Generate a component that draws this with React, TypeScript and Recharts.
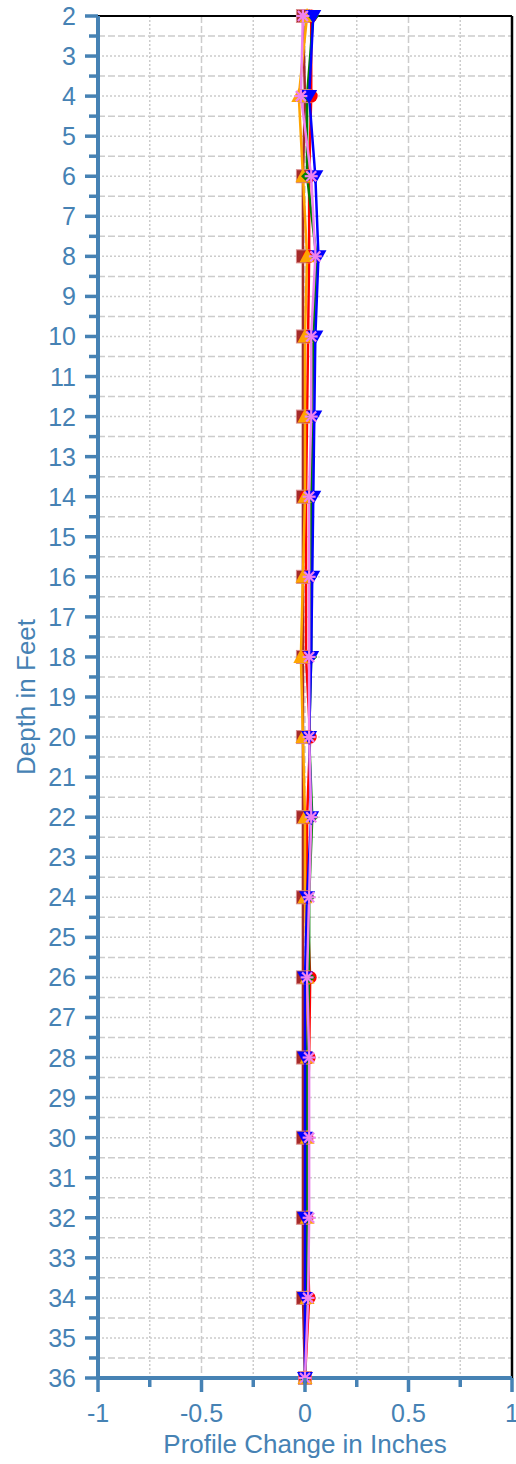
import React from "react";
import {
  LineChart,
  Line,
  XAxis,
  YAxis,
  CartesianGrid,
  ReferenceLine,
} from "recharts";

// depths (ft) and profile change per survey (in)
const DEPTHS = [2, 4, 6, 8, 10, 12, 14, 16, 18, 20, 22, 24, 26, 28, 30, 32, 34, 36];
const BROWN = [-0.01, 0, -0.01, -0.01, -0.01, -0.01, -0.01, -0.01, -0.01, -0.01, -0.01, -0.01, -0.01, -0.01, -0.01, -0.01, -0.01, 0];
const RED = [0.03, 0.03, 0.02, 0.02, 0.015, 0.01, 0.005, 0.005, 0.005, 0.025, 0.01, 0.01, 0.025, 0.02, 0.01, 0.01, 0.02, 0];
const ORANGE = [0.01, -0.03, -0.01, 0.01, 0, 0, 0, -0.01, -0.02, -0.01, 0, 0, 0.01, 0.01, 0.01, 0.01, 0.01, 0];
const GREEN = [0.04, 0.01, 0.01, 0.055, 0.04, 0.035, 0.03, 0.03, 0.03, 0.02, 0.035, 0.02, 0.02, 0.01, 0.01, 0.01, 0.01, 0];
const BLUE = [0.04, 0.02, 0.05, 0.065, 0.05, 0.045, 0.04, 0.035, 0.03, 0.02, 0.03, 0.01, 0, 0, 0, 0, 0, 0];
const VIOLET = [-0.01, -0.02, 0.03, 0.05, 0.03, 0.03, 0.02, 0.02, 0.02, 0.02, 0.03, 0.02, 0.01, 0.02, 0.02, 0.02, 0.015, 0];

// axis ticks
const Y_LABELS = [2, 3, 4, 5, 6, 7, 8, 9, 10, 11, 12, 13, 14, 15, 16, 17, 18, 19, 20, 21, 22, 23, 24, 25, 26, 27, 28, 29, 30, 31, 32, 33, 34, 35, 36];
const Y_MINOR = Y_LABELS.slice(0, -1).map((v) => v + 0.5);
const X_MAJOR = [-1, -0.5, 0, 0.5, 1];
const X_MINOR = [-0.75, -0.25, 0.25, 0.75];

const AXIS = "#4682B4";
const FONT = '"Liberation Sans", Arial, sans-serif';

const data = DEPTHS.map((depth, i) => ({
  depth,
  brown: BROWN[i],
  red: RED[i],
  orange: ORANGE[i],
  green: GREEN[i],
  blue: BLUE[i],
  violet: VIOLET[i],
}));

const YTick = (props: any) => {
  const { x, y, payload } = props;
  const v = payload.value;
  const major = Number.isInteger(v);
  const len = major ? 13 : 9;
  return (
    <g>
      <line x1={x - len} x2={x} y1={y} y2={y} stroke={AXIS} strokeWidth={3.5} />
      {major && (
        <text x={x - 22} y={y} dy={9} textAnchor="end" fill={AXIS} fontSize={25} fontFamily={FONT}>
          {v}
        </text>
      )}
    </g>
  );
};

const XTick = (props: any) => {
  const { x, y, payload } = props;
  const v = payload.value;
  const major = X_MAJOR.includes(v);
  const len = major ? 14 : 9;
  return (
    <g>
      <line x1={x} x2={x} y1={y} y2={y + len} stroke={AXIS} strokeWidth={3.5} />
      {major && (
        <text x={x} y={y + 44} textAnchor="middle" fill={AXIS} fontSize={25} fontFamily={FONT}>
          {v}
        </text>
      )}
    </g>
  );
};

const YTitle = (props: any) => {
  const { x, y, height } = props.viewBox;
  const cx = x + 26;
  const cy = y + height / 2;
  return (
    <text x={cx} y={cy} dy={9} transform={`rotate(-90 ${cx} ${cy})`} textAnchor="middle" fill={AXIS} fontSize={26} fontFamily={FONT}>
      Depth in Feet
    </text>
  );
};

const XTitle = (props: any) => {
  const { x, y, width } = props.viewBox;
  return (
    <text x={x + width / 2} y={y + 75} textAnchor="middle" fill={AXIS} fontSize={26} fontFamily={FONT}>
      Profile Change in Inches
    </text>
  );
};

// marker shapes
const square = (color: string) => (p: any) => (
  <rect key={`sq-${p.index}`} x={p.cx - 6.5} y={p.cy - 6.5} width={13} height={13} fill={color} stroke="#d98c8c" strokeWidth={1} />
);
const circle = (color: string) => (p: any) => (
  <circle key={`ci-${p.index}`} cx={p.cx} cy={p.cy} r={6.5} fill={color} />
);
const triUp = (color: string) => (p: any) => (
  <path key={`tu-${p.index}`} d={`M${p.cx},${p.cy - 8}L${p.cx + 7.5},${p.cy + 6}L${p.cx - 7.5},${p.cy + 6}Z`} fill={color} />
);
const diamond = (color: string) => (p: any) => (
  <path key={`di-${p.index}`} d={`M${p.cx},${p.cy - 6}L${p.cx + 6},${p.cy}L${p.cx},${p.cy + 6}L${p.cx - 6},${p.cy}Z`} fill={color} />
);
const triDown = (color: string) => (p: any) => (
  <path key={`td-${p.index}`} d={`M${p.cx - 8},${p.cy - 6}L${p.cx + 8},${p.cy - 6}L${p.cx},${p.cy + 8}Z`} fill={color} />
);
const star = (color: string) => (p: any) => (
  <g key={`st-${p.index}`} stroke={color} strokeWidth={2.2}>
    <line x1={p.cx - 6.5} y1={p.cy} x2={p.cx + 6.5} y2={p.cy} />
    <line x1={p.cx} y1={p.cy - 6.5} x2={p.cx} y2={p.cy + 6.5} />
    <line x1={p.cx - 5} y1={p.cy - 5} x2={p.cx + 5} y2={p.cy + 5} />
    <line x1={p.cx - 5} y1={p.cy + 5} x2={p.cx + 5} y2={p.cy - 5} />
  </g>
);

const SERIES = [
  { key: "brown", color: "#A52A2A", dot: square("#A52A2A") },
  { key: "red", color: "#FF0000", dot: circle("#FF0000") },
  { key: "orange", color: "#FFA500", dot: triUp("#FFA500") },
  { key: "green", color: "#008000", dot: diamond("#008000") },
  { key: "blue", color: "#0000FF", dot: triDown("#0000FF") },
  { key: "violet", color: "#EE82EE", dot: star("#EE82EE") },
];

export default function App() {
  return (
    <div style={{ position: "absolute", left: 0, top: 0 }}>
      <LineChart
        width={516}
        height={1464}
        data={data}
        layout="vertical"
        margin={{ top: 16, right: 4, left: 0, bottom: 0 }}
      >
        <CartesianGrid horizontalValues={Y_LABELS} verticalValues={X_MINOR} stroke="#cccccc" strokeWidth={1.5} strokeDasharray="2 2" />
        <CartesianGrid horizontalValues={Y_MINOR} verticalValues={[-0.5, 0, 0.5]} stroke="#cccccc" strokeWidth={1.5} strokeDasharray="7 3" />
        <ReferenceLine y={2} stroke="#000" strokeWidth={2} />
        <ReferenceLine x={1} stroke="#000" strokeWidth={2.5} ifOverflow="visible" />
        <XAxis
          type="number"
          domain={[-1, 1]}
          ticks={[...X_MAJOR, ...X_MINOR].sort((a, b) => a - b)}
          interval={0}
          height={86}
          tickSize={0}
          tickMargin={0}
          tickLine={false}
          axisLine={{ stroke: AXIS, strokeWidth: 4 }}
          tick={<XTick />}
          label={XTitle}
        />
        <YAxis
          type="number"
          dataKey="depth"
          domain={[2, 36]}
          ticks={[...Y_LABELS, ...Y_MINOR].sort((a, b) => a - b)}
          interval={0}
          width={98}
          tickSize={0}
          tickMargin={0}
          tickLine={false}
          axisLine={{ stroke: AXIS, strokeWidth: 4 }}
          tick={<YTick />}
          label={YTitle}
        />
        {SERIES.map((s) => (
          <Line
            key={s.key}
            dataKey={s.key}
            stroke={s.color}
            strokeWidth={2.5}
            dot={s.dot}
            activeDot={false}
            isAnimationActive={false}
          />
        ))}
      </LineChart>
    </div>
  );
}
